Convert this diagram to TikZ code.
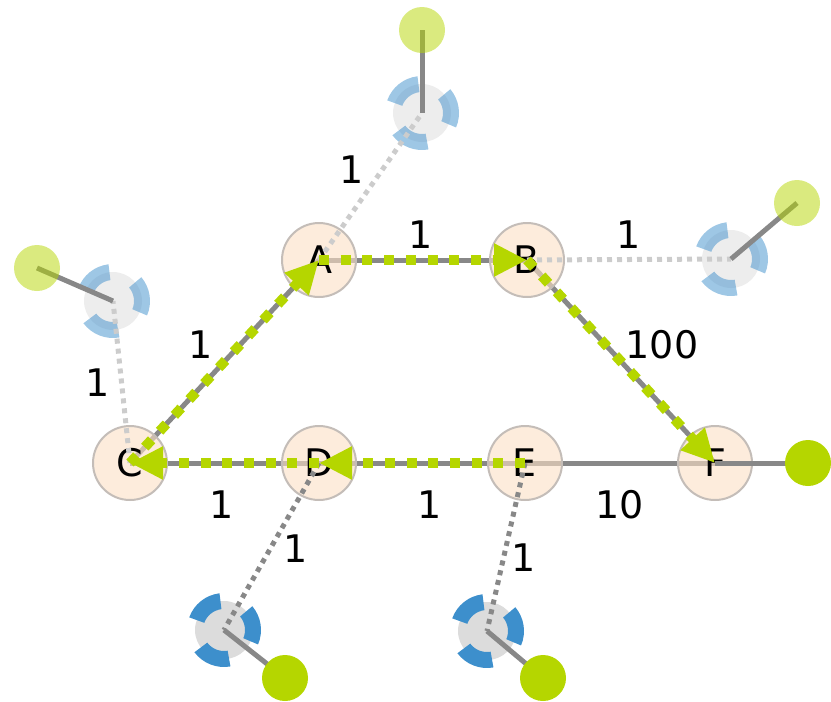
\documentclass[tikz,border=0pt]{standalone}
\usepackage{fontspec}
\setmainfont{DejaVu Sans}
\usetikzlibrary{arrows.meta}
\definecolor{edgegray}{HTML}{888888}
\definecolor{lightdot}{HTML}{CCCCCC}
\definecolor{nodefill}{HTML}{FBDFC4}
\definecolor{nodeborder}{HTML}{C4BDB8}
\definecolor{hgreen}{HTML}{B5D600}
\definecolor{hblue}{HTML}{3D8FCC}
\definecolor{hgray}{HTML}{DCDCDC}
\pgfdeclarelayer{bg}
\pgfdeclarelayer{fg}
\pgfsetlayers{bg,main,fg}
\tikzset{
  rnode/.style={circle, minimum size=74pt, inner sep=0pt, draw=nodeborder, line width=2pt,
    fill=nodefill, fill opacity=0.6, draw opacity=1, text opacity=1, font=\fontsize{38}{38}\selectfont},
  lbl/.style={inner sep=0pt, font=\fontsize{38}{38}\selectfont},
  edge/.style={draw=edgegray, line width=5pt},
  hostlink/.style={draw=edgegray, line width=5pt, dash pattern=on 5pt off 5pt},
  fadelink/.style={draw=lightdot, line width=5pt, dash pattern=on 5pt off 5pt},
  hostline/.style={draw=edgegray, line width=5pt},
  gfull/.style={circle, minimum size=46pt, inner sep=0pt, fill=hgreen},
  gfade/.style={circle, minimum size=46pt, inner sep=0pt, fill=hgreen, fill opacity=0.5},
  flow/.style={draw=hgreen, line width=10pt, dash pattern=on 10pt off 11.7pt,
    -{Triangle[length=33pt,width=31pt]}},
  pics/hostico/.style={code={
    \begin{scope}[yscale=-1]
      \fill[hgray, fill opacity=#1] (0,0) circle[radius=29];
      \foreach \a in {97,217,337}{
        \fill[hblue, fill opacity=#1] (\a:37) arc[start angle=\a, delta angle=63, radius=37]
          -- ({\a+63}:21) arc[start angle={\a+63}, delta angle=-63, radius=21] -- cycle;
      }
    \end{scope}
  }}
}
\begin{document}
\begin{tikzpicture}[x=1pt,y=-1pt]
\useasboundingbox (0,0) rectangle (831,702);
% router nodes
\node[rnode] (A) at (319,260) {A};
\node[rnode] (B) at (527,260) {B};
\node[rnode] (C) at (130,463) {C};
\node[rnode] (D) at (319,463) {D};
\node[rnode] (E) at (525,463) {E};
\node[rnode] (F) at (715,463) {F};
% links between routers
\begin{pgfonlayer}{bg}
\draw[edge] (A.center) -- (B.center);
\draw[edge] (B.center) -- (F.center);
\draw[edge] (A.center) -- (C.center);
\draw[edge] (C.center) -- (D.center);
\draw[edge] (D.center) -- (E.center);
\draw[edge] (E.center) -- (F.center);
\end{pgfonlayer}
% host positions
\coordinate (hA) at (422,113);
\coordinate (hB) at (731,259);
\coordinate (hC) at (113,301);
\coordinate (hD) at (224,630);
\coordinate (hE) at (487,631);
\coordinate (cA) at (422,30);
\coordinate (cB) at (797,203);
\coordinate (cC) at (37,268);
\coordinate (cD) at (285,678);
\coordinate (cE) at (543,678);
\coordinate (cF) at (808,463);
% faded hosts
\pic at (hA) {hostico=0.5};
\pic at (hB) {hostico=0.5};
\pic at (hC) {hostico=0.5};
\draw[fadelink] (A.center) -- (hA);
\draw[fadelink] (B.center) -- (hB);
\draw[fadelink] (C.center) -- (hC);
\draw[hostline] (hA) -- (cA);
\draw[hostline] (hB) -- (cB);
\draw[hostline] (hC) -- (cC);
\node[gfade] (gA) at (cA) {};
\node[gfade] (gB) at (cB) {};
\node[gfade] (gC) at (cC) {};
% full hosts
\pic at (hD) {hostico=1};
\pic at (hE) {hostico=1};
\draw[hostlink] (D.center) -- (hD);
\draw[hostlink] (E.center) -- (hE);
\draw[hostline] (hD) -- (cD);
\draw[hostline] (hE) -- (cE);
\draw[hostline] (F.center) -- (cF);
\node[gfull] (gD) at (cD) {};
\node[gfull] (gE) at (cE) {};
\node[gfull] (gF) at (cF) {};
% flow arrows
\begin{pgfonlayer}{fg}
\draw[flow] (C.center) -- (A.center);
\draw[flow] (A.center) -- (B.center);
\draw[flow] (B.center) -- (F.center);
\draw[flow] (E.center) -- (D.center);
\draw[flow] (D.center) -- (C.center);
\end{pgfonlayer}
% labels
\node[lbl] (lAh) at (352,170) {1};
\node[lbl] (lAB) at (421,235) {1};
\node[lbl] (lBh) at (629,235) {1};
\node[lbl] (lCA) at (201,345) {1};
\node[lbl] (lBF) at (662,345) {100};
\node[lbl] (lCh) at (98,383) {1};
\node[lbl] (lCD) at (222,505) {1};
\node[lbl] (lDE) at (430,505) {1};
\node[lbl] (lEF) at (620,505) {10};
\node[lbl] (lDh) at (296,549) {1};
\node[lbl] (lEh) at (524,558) {1};
\end{tikzpicture}
\end{document}
